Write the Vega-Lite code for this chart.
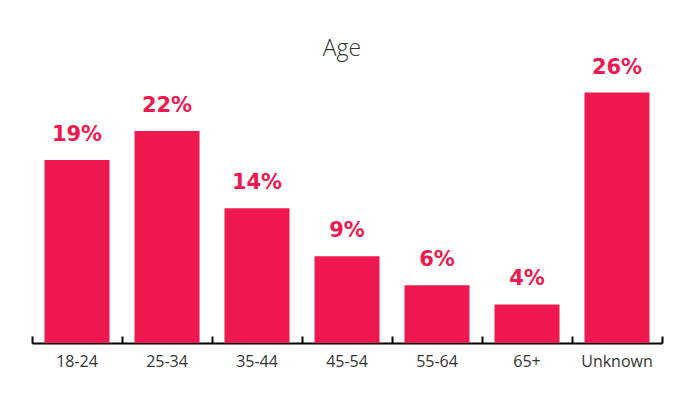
{
  "$schema": "https://vega.github.io/schema/vega-lite/v6.json",
  "width": 630,
  "height": 289,
  "autosize": {"type": "none"},
  "padding": {"left": 32, "top": 54, "right": 19, "bottom": 51},
  "title": {"text": "Age", "frame": "group", "anchor": "middle", "orient": "top", "offset": -25, "dx": -5, "baseline": "alphabetic", "font": "Open Sans", "fontSize": 23, "fontWeight": 300, "color": "#333333"},
  "data": {"values": [
    {"age": "18-24", "pct": 19, "label": "19%"},
    {"age": "25-34", "pct": 22, "label": "22%"},
    {"age": "35-44", "pct": 14, "label": "14%"},
    {"age": "45-54", "pct": 9, "label": "9%"},
    {"age": "55-64", "pct": 6, "label": "6%"},
    {"age": "65+", "pct": 4, "label": "4%"},
    {"age": "Unknown", "pct": 26, "label": "26%"}
  ]},
  "encoding": {
    "x": {"field": "age", "type": "nominal", "sort": null,
      "scale": {"paddingInner": 0, "paddingOuter": 0},
      "axis": {"title": null, "bandPosition": 1, "tickExtra": true, "domainColor": "#000000", "domainWidth": 2, "tickColor": "#000000", "tickWidth": 2, "tickSize": -7, "labelPadding": 17, "labelFont": "Open Sans", "labelFontSize": 16, "labelColor": "#333333", "labelAngle": 0, "grid": false}},
    "y": {"field": "pct", "type": "quantitative", "scale": {"domain": [0, 30]}, "axis": null}
  },
  "layer": [
    {"mark": {"type": "bar", "color": "#F0194F", "width": {"band": 0.7222}}},
    {"mark": {"type": "text", "color": "#F0194F", "font": "DejaVu Sans", "fontWeight": "bold", "fontSize": 21, "baseline": "alphabetic", "dy": -19},
     "encoding": {"text": {"field": "label"}}}
  ],
  "config": {"view": {"stroke": null}}
}
